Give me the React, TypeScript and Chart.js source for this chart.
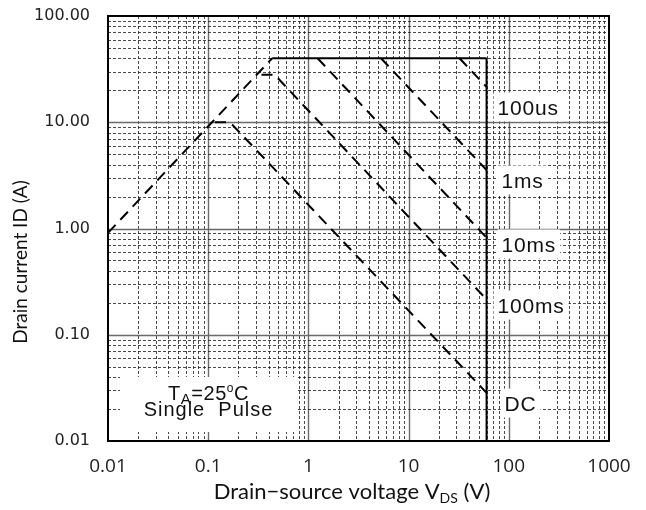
import React, { useEffect, useRef } from "react";
import { Chart, registerables } from "chart.js";

Chart.register(...registerables);

// ---- Axis ticks ----
const xTickValues = [0.01, 0.1, 1, 10, 100, 1000];
const xTickLabels = ["0.01", "0.1", "1", "10", "100", "1000"];
const yTickValues = [0.01, 0.1, 1, 10, 100];
const yTickLabels = ["0.01", "0.10", "1.00", "10.00", "100.00"];

// ---- Safe operating area boundaries (VDS in V, ID in A) ----
const rdsLimitV = [0.01, 0.435];
const rdsLimitI = [0.91, 40];
const currentLimitV = [0.435, 60];
const currentLimitI = [40, 40];
const voltageLimitV = [60, 60];
const voltageLimitI = [40, 0.01];
const pulse100usV = [32.2, 60];
const pulse100usI = [40, 21.5];
const pulse1msV = [5.3, 60];
const pulse1msI = [40, 3.55];
const pulse10msV = [1.235, 60];
const pulse10msI = [40, 0.82];
const pulse100msV = [0.34, 0.46, 60];
const pulse100msI = [28, 28, 0.215];
const dcV = [0.117, 0.165, 60];
const dcI = [10, 10, 0.0284];

// ---- Curve labels ----
const curveLabels = ["100us", "1ms", "10ms", "100ms", "DC"];
const curveLabelCurrents = [13.8, 2.83, 0.707, 0.1885, 0.0225];

// layout of annotations (pixels, not data)
const curveLabelOffsetPx = [11, 15, 15, 11, 18];

const zip = (xs: number[], ys: number[]) => xs.map((x, i) => ({ x, y: ys[i] }));

type Part = { t: string; font: string; dy: number };
function drawParts(ctx: CanvasRenderingContext2D, parts: Part[], cx: number, baseY: number, spacing = 0) {
  (ctx as any).letterSpacing = spacing + "px";
  let total = 0;
  const ws = parts.map((p) => {
    ctx.font = p.font;
    const w = ctx.measureText(p.t).width;
    total += w;
    return w;
  });
  let x = cx - total / 2;
  ctx.textAlign = "left";
  ctx.textBaseline = "alphabetic";
  parts.forEach((p, i) => {
    ctx.font = p.font;
    ctx.fillText(p.t, x, baseY + p.dy);
    x += ws[i];
  });
  (ctx as any).letterSpacing = "0px";
}

const soaPlugin = {
  id: "soaDecor",
  beforeDatasetsDraw(chart: any) {
    const { ctx, chartArea: a } = chart;
    const xs = chart.scales.x;
    const ys = chart.scales.y;
    ctx.save();
    // vertical grid
    for (let e = -2; e <= 2; e++) {
      for (let m = 1; m <= 9; m++) {
        const v = m * Math.pow(10, e);
        if (v <= 0.0100001 || v >= 999.99) continue;
        const px = Math.round(xs.getPixelForValue(v)) + 0.5;
        ctx.beginPath();
        if (m === 1) {
          ctx.setLineDash([]);
          ctx.strokeStyle = "#6a6a6a";
          ctx.lineWidth = 1.4;
        } else {
          ctx.setLineDash([3, 2]);
          ctx.strokeStyle = "rgba(30,30,30,0.8)";
          ctx.lineWidth = 1;
        }
        ctx.moveTo(px, a.top);
        ctx.lineTo(px, a.bottom);
        ctx.stroke();
      }
    }
    // horizontal grid
    for (let e = -2; e <= 1; e++) {
      for (let m = 1; m <= 9; m++) {
        const v = m * Math.pow(10, e);
        if (v <= 0.0100001 || v >= 99.999) continue;
        const py = Math.round(ys.getPixelForValue(v)) + 0.5;
        ctx.beginPath();
        if (m === 1) {
          ctx.setLineDash([]);
          ctx.strokeStyle = "#6a6a6a";
          ctx.lineWidth = 1.4;
        } else {
          ctx.setLineDash([3, 2]);
          ctx.strokeStyle = "rgba(30,30,30,0.8)";
          ctx.lineWidth = 1;
        }
        ctx.moveTo(a.left, py);
        ctx.lineTo(a.right, py);
        ctx.stroke();
      }
    }
    ctx.setLineDash([]);

    // curve labels with white boxes
    const x60 = xs.getPixelForValue(60);
    ctx.font = "21px 'Liberation Sans', Arial, sans-serif";
    (ctx as any).letterSpacing = "0.8px";
    curveLabels.forEach((lab, i) => {
      const cy = ys.getPixelForValue(curveLabelCurrents[i]);
      const lx = x60 + curveLabelOffsetPx[i];
      const w = ctx.measureText(lab).width;
      ctx.fillStyle = "#ffffff";
      ctx.fillRect(lx - 4, cy - 15, w + 8, 29);
      ctx.fillStyle = "#111";
      ctx.textAlign = "left";
      ctx.textBaseline = "alphabetic";
      ctx.fillText(lab, lx, cy + 7.5);
    });
    (ctx as any).letterSpacing = "0px";

    // conditions box
    const bx = a.left + 12;
    const bw = 177;
    const bh = 55;
    const by = a.bottom - 9 - bh;
    ctx.fillStyle = "#ffffff";
    ctx.fillRect(bx, by, bw, bh);
    ctx.fillStyle = "#111";
    const f = "'Liberation Sans', Arial, sans-serif";
    const cx = bx + bw / 2;
    drawParts(
      ctx,
      [
        { t: "T", font: `20px ${f}`, dy: 0 },
        { t: "A", font: `15px ${f}`, dy: 4 },
        { t: "=25", font: `20px ${f}`, dy: 0 },
        { t: "o", font: `12px ${f}`, dy: -8 },
        { t: "C", font: `20px ${f}`, dy: 0 },
      ],
      cx,
      by + 23,
      0.5
    );
    drawParts(ctx, [{ t: "Single  Pulse", font: `20px ${f}`, dy: 0 }], cx, by + 39, 1);
    ctx.restore();
  },
  afterDatasetsDraw(chart: any) {
    const { ctx, chartArea: a } = chart;
    ctx.save();
    ctx.strokeStyle = "#000";
    ctx.lineWidth = 2;
    ctx.strokeRect(a.left, a.top, a.right - a.left, a.bottom - a.top);
    ctx.restore();
  },
  afterDraw(chart: any) {
    const { ctx } = chart;
    ctx.save();
    ctx.fillStyle = "#111";
    const tf = "Lato, 'Open Sans', sans-serif";
    drawParts(
      ctx,
      [
        { t: "Drain\u2212source voltage V", font: `22px ${tf}`, dy: 0 },
        { t: "DS", font: `14px ${tf}`, dy: 4 },
        { t: " (V)", font: `22px ${tf}`, dy: 0 },
      ],
      352,
      499
    );
    ctx.translate(21, 262);
    ctx.rotate(-Math.PI / 2);
    ctx.font = `19px ${tf}`;
    ctx.textAlign = "center";
    ctx.textBaseline = "middle";
    ctx.fillText("Drain current ID (A)", 0, 0);
    ctx.restore();
  },
};

export default function App() {
  const ref = useRef<HTMLCanvasElement | null>(null);
  useEffect(() => {
    if (!ref.current) return;
    const dashed = { borderColor: "#000", borderWidth: 2, borderDash: [11, 7], pointRadius: 0, fill: false, tension: 0 };
    const solid = { borderColor: "#000", borderWidth: 2, pointRadius: 0, fill: false, tension: 0 };
    const chart = new Chart(ref.current, {
      type: "line",
      data: {
        datasets: [
          { label: "RDS(on) limit", data: zip(rdsLimitV, rdsLimitI), ...dashed },
          { label: "ID limit", data: zip(currentLimitV, currentLimitI), ...solid },
          { label: "VDS limit", data: zip(voltageLimitV, voltageLimitI), ...solid },
          { label: "100us", data: zip(pulse100usV, pulse100usI), ...dashed },
          { label: "1ms", data: zip(pulse1msV, pulse1msI), ...dashed },
          { label: "10ms", data: zip(pulse10msV, pulse10msI), ...dashed },
          { label: "100ms", data: zip(pulse100msV, pulse100msI), ...dashed },
          { label: "DC", data: zip(dcV, dcI), ...dashed },
        ] as any,
      },
      options: {
        responsive: false,
        animation: false,
        devicePixelRatio: 1,
        layout: { autoPadding: false, padding: { top: 16, right: 37, left: 0, bottom: 0 } },
        plugins: { legend: { display: false }, tooltip: { enabled: false } },
        elements: { line: { borderCapStyle: "butt" } },
        scales: {
          x: {
            type: "logarithmic",
            min: 0.01,
            max: 1000,
            grid: { display: false, drawTicks: false },
            border: { display: false },
            afterBuildTicks: (s: any) => {
              s.ticks = xTickValues.map((v) => ({ value: v, major: true }));
            },
            afterFit: (s: any) => {
              s.height = 69;
              s.paddingLeft = 0;
              s.paddingRight = 0;
              s.paddingTop = 0;
              s.paddingBottom = 0;
            },
            ticks: {
              autoSkip: false,
              maxRotation: 0,
              padding: 14,
              color: "#222",
              font: { family: "'Open Sans', sans-serif", size: 19 },
              callback: (v: any) => {
                const i = xTickValues.findIndex((t) => Math.abs(t - Number(v)) < 1e-9 * Math.max(1, t));
                return i >= 0 ? xTickLabels[i] : "";
              },
            },
          },
          y: {
            type: "logarithmic",
            min: 0.01,
            max: 100,
            grid: { display: false, drawTicks: false },
            border: { display: false },
            afterBuildTicks: (s: any) => {
              s.ticks = yTickValues.map((v) => ({ value: v, major: true }));
            },
            afterFit: (s: any) => {
              s.width = 108;
              s.paddingLeft = 0;
              s.paddingRight = 0;
              s.paddingTop = 0;
              s.paddingBottom = 0;
            },
            ticks: {
              autoSkip: false,
              padding: 18,
              color: "#222",
              font: { family: "'DejaVu Sans', sans-serif", size: 16 },
              callback: (v: any) => {
                const i = yTickValues.findIndex((t) => Math.abs(t - Number(v)) < 1e-9 * Math.max(1, t));
                return i >= 0 ? yTickLabels[i] : "";
              },
            },
          },
        } as any,
      },
      plugins: [soaPlugin as any],
    });
    return () => chart.destroy();
  }, []);
  return (
    <div style={{ position: "fixed", left: 0, top: 0, width: 646, height: 510, background: "#fff" }}>
      <canvas ref={ref} width={646} height={510} style={{ width: 646, height: 510, display: "block" }} />
    </div>
  );
}
